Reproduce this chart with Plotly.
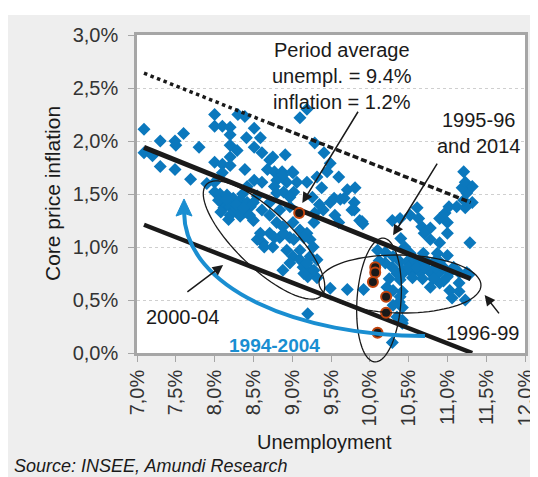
import numpy as np
import plotly.graph_objects as go

# ---- data (unemployment %, core inflation %) ----
unemp = [
    7.09, 7.09, 7.20, 7.30, 7.30, 7.49, 7.50, 7.60, 7.49, 7.69, 7.80, 7.90,
    8.00, 8.00, 8.10, 8.20, 8.20, 8.30, 8.39, 8.51, 8.41, 8.59, 8.20, 8.29, 8.51, 8.61,
    8.00, 8.10, 8.20, 8.20, 8.39, 8.51, 8.61, 8.10, 8.00, 8.68,
    8.00, 8.07, 8.16, 8.24, 8.33, 8.42, 8.10, 8.12, 8.20, 8.29, 8.39, 8.50, 8.50, 8.25,
    8.33, 8.46, 8.42, 8.61, 8.55, 8.20,
    8.71, 8.75, 8.91, 9.10, 9.19, 9.29, 9.41, 9.49, 9.45, 9.60, 8.77, 8.87, 9.00, 8.80,
    8.93, 9.06, 9.19, 9.32, 9.38, 8.77, 8.89, 9.02, 9.26, 8.71, 8.84, 8.97, 9.29, 9.49,
    9.60, 9.28, 8.80, 8.71, 8.88, 9.01, 9.10, 9.19, 9.23, 9.27, 8.97, 8.84, 8.71, 8.62,
    8.75, 8.93, 9.01, 9.10, 9.14, 8.97, 9.23, 9.32, 9.25, 8.88, 9.20, 9.32, 8.55, 8.64,
    8.59, 8.77, 8.89, 9.02, 9.15, 9.10, 9.19, 9.28, 9.15, 8.97, 8.80, 8.88, 9.01,
    9.71, 9.81, 9.67, 9.80, 9.54, 9.80, 9.90, 9.87, 9.91, 9.77, 9.49, 9.71, 9.92, 9.20, 10.10,
    10.29, 10.39, 10.52, 10.63, 10.61, 10.67, 10.78, 10.90, 10.97, 11.00, 11.02, 11.12,
    11.23, 11.21, 11.32, 11.25, 11.19, 11.23, 11.32, 11.21, 10.70, 11.00, 11.29, 10.90,
    10.78, 10.87, 11.00, 10.52, 10.69, 10.30, 10.45, 10.40,
    10.39, 10.48, 10.57, 10.65, 10.74, 10.83, 10.90, 10.44, 10.54, 10.65, 10.78, 10.89,
    11.03, 11.15, 11.25, 11.00, 10.78, 10.90, 11.03, 11.15, 11.06, 11.23, 11.15, 11.28,
    10.39, 10.42, 10.38, 10.42, 10.29,
    10.20, 10.29, 10.35, 10.42, 10.22, 10.30, 10.39, 10.42, 10.35, 10.42, 10.25, 10.30,
    10.20, 10.12,
    8.05, 8.15, 8.28, 8.37, 8.45, 8.18, 8.08, 8.36, 9.40, 9.55, 9.62, 9.35,
    10.50, 10.60, 10.72, 10.85, 10.95, 11.08, 10.55, 10.68, 10.82, 10.95,
]
infl = [
    2.11, 1.89, 1.86, 2.00, 1.76, 2.00, 1.96, 2.07, 1.73, 1.64, 1.94, 1.60,
    2.25, 2.14, 2.14, 2.13, 2.06, 2.25, 2.23, 2.12, 2.03, 2.03, 1.96, 1.91, 1.94, 1.89,
    1.80, 1.78, 1.85, 1.77, 1.73, 1.63, 1.61, 1.70, 1.61, 1.73,
    1.52, 1.50, 1.49, 1.46, 1.44, 1.42, 1.41, 1.37, 1.38, 1.33, 1.33, 1.42, 1.25, 1.35,
    1.29, 1.38, 1.57, 1.35, 1.48, 1.30,
    1.82, 1.85, 1.87, 2.22, 2.30, 1.98, 1.89, 1.79, 1.71, 1.66, 1.71, 1.71, 1.71, 1.63,
    1.61, 1.61, 1.61, 1.66, 1.56, 1.57, 1.52, 1.52, 1.47, 1.42, 1.35, 1.38, 1.32, 1.42,
    1.23, 1.23, 1.23, 1.30, 1.19, 1.23, 1.16, 1.13, 1.07, 1.00, 1.09, 1.09, 1.13, 1.04,
    1.00, 0.97, 0.91, 0.88, 0.81, 0.85, 0.91, 0.88, 0.78, 0.78, 0.72, 0.71, 1.07, 1.00,
    1.13, 1.09, 1.13, 1.07, 1.09, 0.97, 0.85, 0.78, 0.75, 1.47, 1.51, 1.68, 1.70,
    1.54, 1.56, 1.46, 1.42, 1.46, 1.35, 1.24, 1.25, 1.22, 1.35, 0.61, 0.60, 0.60, 0.37, 0.97,
    1.25, 1.27, 1.30, 1.27, 1.37, 1.19, 1.18, 1.27, 1.32, 1.23, 1.38, 1.38,
    1.37, 1.44, 1.42, 1.51, 1.56, 1.61, 1.57, 1.71, 1.13, 1.13, 1.04, 1.04,
    1.07, 0.94, 0.92, 0.94, 0.94, 0.91, 1.00, 1.08,
    0.86, 0.86, 0.86, 0.86, 0.86, 0.86, 0.86, 0.76, 0.76, 0.76, 0.76, 0.76,
    0.76, 0.76, 0.76, 0.72, 0.62, 0.66, 0.59, 0.58, 0.52, 0.50, 0.66, 0.74,
    0.69, 0.58, 0.48, 0.31, 0.10,
    0.85, 0.81, 0.75, 0.78, 0.62, 0.59, 0.53, 0.43, 0.34, 0.28, 0.70, 0.45,
    0.95, 0.87,
    1.44, 1.45, 1.40, 1.37, 1.30, 1.26, 1.33, 1.50, 1.35, 1.30, 1.45, 1.40,
    0.81, 0.81, 0.81, 0.81, 0.81, 0.81, 0.71, 0.70, 0.70, 0.68,
]

# highlighted observations (1995-96, 2014 and period average)
hl_unemp = [9.09, 10.07, 10.07, 10.04, 10.21, 10.21, 10.10]
hl_infl = [1.32, 0.81, 0.76, 0.67, 0.53, 0.38, 0.19]

# Phillips-curve lines
top_x = [7.09, 8.70]
top_y = [2.64, 2.17]
top2_x = [8.70, 11.30]
top2_y = [2.17, 1.42]
mid_x = [7.09, 11.30]
mid_y = [1.94, 0.70]
low_x = [7.09, 11.32]
low_y = [1.21, 0.00]

x_ticks = [7.0, 7.5, 8.0, 8.5, 9.0, 9.5, 10.0, 10.5, 11.0, 11.5, 12.0]
y_ticks = [0.0, 0.5, 1.0, 1.5, 2.0, 2.5, 3.0]
x_labels = [f"{v:.1f}%".replace(".", ",") for v in x_ticks]
y_labels = [f"{v:.1f}%".replace(".", ",") for v in y_ticks]

FONT = "Liberation Sans, Arial, sans-serif"
BLUE = "#0b78bd"
ARC = "#1a8ed1"

X0, X1 = x_ticks[0], x_ticks[-1]
Y0, Y1 = y_ticks[0], y_ticks[-1]
# pixel scale of the plot area (388 px wide, 318 px high)
PXX = 388 / (X1 - X0)
PXY = 318 / (Y1 - Y0)


def ellipse_path(cx, cy, a, b, ang):
    """Ellipse around (cx, cy) in data units, semi-axes in pixels; returned in paper coords."""
    t = np.linspace(0, 2 * np.pi, 90)
    th = np.radians(ang)
    dxs = a * np.cos(t) * np.cos(th) - b * np.sin(t) * np.sin(th)
    dys = a * np.cos(t) * np.sin(th) + b * np.sin(t) * np.cos(th)
    xs = (cx + dxs / PXX - X0) / (X1 - X0)
    ys = (cy - dys / PXY - Y0) / (Y1 - Y0)
    pts = [f"{x:.4f},{y:.4f}" for x, y in zip(xs, ys)]
    return "M " + " L ".join(pts) + " Z"


fig = go.Figure()

fig.add_trace(go.Scatter(x=unemp, y=infl, mode="markers",
                         marker=dict(symbol="diamond", size=10, color=BLUE, line=dict(width=0)),
                         showlegend=False, hoverinfo="skip"))

fig.add_trace(go.Scatter(x=top_x, y=top_y, mode="lines",
                         line=dict(color="#1a1a1a", width=3.5, dash="dot"),
                         showlegend=False, hoverinfo="skip"))
fig.add_trace(go.Scatter(x=top2_x, y=top2_y, mode="lines",
                         line=dict(color="#1a1a1a", width=3.5, dash="6px,3px"),
                         showlegend=False, hoverinfo="skip"))
fig.add_trace(go.Scatter(x=mid_x, y=mid_y, mode="lines",
                         line=dict(color="#1a1a1a", width=5),
                         showlegend=False, hoverinfo="skip"))
fig.add_trace(go.Scatter(x=low_x, y=low_y, mode="lines",
                         line=dict(color="#1a1a1a", width=4.5),
                         showlegend=False, hoverinfo="skip"))

fig.add_trace(go.Scatter(x=hl_unemp, y=hl_infl, mode="markers",
                         marker=dict(symbol="circle", size=10, color="#1a1a1a",
                                     line=dict(color="#c1440e", width=2)),
                         showlegend=False, hoverinfo="skip"))

ell_line = dict(color="#1a1a1a", width=1.3)
shapes = [
    # white band above the grey panel
    dict(type="rect", xref="paper", yref="paper", x0=-0.5, x1=1.5, y0=1.0629, y1=1.3,
         fillcolor="white", line=dict(width=0), layer="below"),
    # ellipses (paper coords so that they are not clipped at the axes)
    dict(type="path", xref="paper", yref="paper", path=ellipse_path(8.637, 1.066, 80, 28, 44),
         line=ell_line, layer="above"),
    dict(type="path", xref="paper", yref="paper", path=ellipse_path(10.119, 0.50, 62, 22, -86),
         line=ell_line, layer="above"),
    dict(type="path", xref="paper", yref="paper", path=ellipse_path(10.389, 0.651, 81, 29, 1),
         line=ell_line, layer="above"),
    # blue curved arrow 1994-2004
    dict(type="path", xref="x", yref="y",
         path="M 10.711,0.160 C 9.101,0.160 7.619,0.594 7.606,1.330",
         line=dict(color=ARC, width=4), layer="above"),
    dict(type="path", xref="x", yref="y",
         path="M 7.606,1.453 L 7.503,1.292 L 7.606,1.318 L 7.709,1.292 Z",
         fillcolor=ARC, line=dict(color=ARC, width=1), layer="above"),
]

ann_font = dict(family=FONT, size=20, color="#1a1a1a")
annotations = [
    dict(x=9.64, y=2.61, xref="x", yref="y", text="Period average<br>unempl. = 9.4%<br>inflation = 1.2%",
         showarrow=False, font=ann_font, align="center"),
    dict(x=11.40, y=2.075, xref="x", yref="y", text="1995-96<br>and 2014",
         showarrow=False, font=ann_font, align="center"),
    dict(x=7.59, y=0.34, xref="x", yref="y", text="2000-04", showarrow=False, font=ann_font),
    dict(x=11.45, y=0.19, xref="x", yref="y", text="1996-99", showarrow=False, font=ann_font),
    dict(x=8.77, y=0.075, xref="x", yref="y", text="<b>1994-2004</b>", showarrow=False,
         font=dict(family=FONT, size=19, color=ARC)),
    # axis titles and source
    dict(x=-0.219, y=0.5, xref="paper", yref="paper", xanchor="center", yanchor="middle",
         text="Core price inflation", textangle=-90,
         showarrow=False, font=dict(family=FONT, size=21, color="#1a1a1a")),
    dict(x=0.482, y=-0.280, xref="paper", yref="paper", xanchor="center", yanchor="middle",
         text="Unemployment",
         showarrow=False, font=dict(family=FONT, size=20, color="#1a1a1a")),
    dict(x=-0.322, y=-0.355, xref="paper", yref="paper", xanchor="left", yanchor="middle",
         text="<i>Source: INSEE, Amundi Research</i>",
         showarrow=False, font=dict(family=FONT, size=18, color="#1a1a1a")),
]
arrows = [
    (9.13, 1.415, 9.86, 2.29),
    (10.30, 1.11, 10.88, 1.80),
    (8.11, 0.83, 7.63, 0.566),
    (11.48, 0.547, 11.68, 0.36),
]
for hx, hy, tx, ty in arrows:
    annotations.append(dict(x=hx, y=hy, ax=tx, ay=ty, xref="x", yref="y", axref="x", ayref="y",
                            text="", showarrow=True, arrowhead=2, arrowsize=1.4, arrowwidth=1.5,
                            arrowcolor="#1a1a1a", standoff=0))

fig.update_layout(
    width=530, height=469,
    margin=dict(l=129, r=13, t=27, b=124, autoexpand=False),
    paper_bgcolor="#eeeeee", plot_bgcolor="white",
    shapes=shapes, annotations=annotations,
    font=dict(family=FONT, color="#333333"),
)
fig.update_xaxes(range=[X0, X1], tickmode="array", tickvals=x_ticks, ticktext=x_labels,
                 tickangle=-90, ticks="outside", ticklen=6, tickcolor="#a6a6a6",
                 showline=True, linecolor="#a6a6a6", linewidth=2.5, mirror=True,
                 showgrid=False, zeroline=False, automargin=False,
                 tickfont=dict(family=FONT, size=20, color="#333333"))
fig.update_yaxes(range=[Y0, Y1], tickmode="array", tickvals=y_ticks, ticktext=y_labels,
                 ticks="outside", ticklen=6, tickcolor="#a6a6a6",
                 showline=True, linecolor="#a6a6a6", linewidth=2.5, mirror=True,
                 showgrid=True, gridcolor="#cfcfcf", griddash="dot", gridwidth=1,
                 zeroline=False, ticklabelstandoff=6, automargin=False,
                 tickfont=dict(family=FONT, size=20, color="#333333"))

fig.write_html("out.html")
